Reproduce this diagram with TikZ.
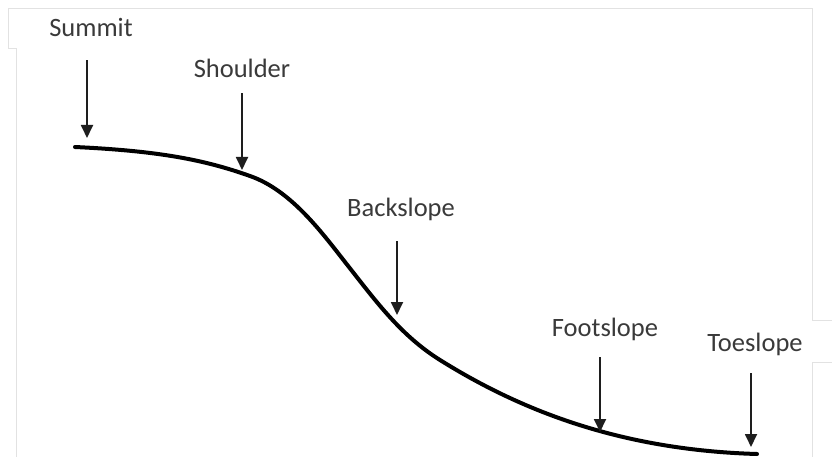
\documentclass[tikz,border=0pt]{standalone}
\usepackage{fontspec}
\setmainfont{Carlito}
\usetikzlibrary{arrows.meta}
\definecolor{txt}{HTML}{3A3A3A}
\definecolor{arrc}{HTML}{1E1E1E}
\definecolor{frame}{HTML}{E2E2E2}
\begin{document}
\begin{tikzpicture}[x=1pt,y=-1pt,
  lab/.style={font=\fontsize{26.5}{30}\selectfont, text=txt, anchor=base, inner sep=0pt},
  arr/.style={draw=arrc, line width=1.8pt, -{Triangle[width=12pt,length=13pt]}},
  slope/.style={draw=black, line width=4pt, line cap=round},
  edge/.style={draw=frame, line width=0.8pt}]
\useasboundingbox (0,0) rectangle (832,457);
\fill[white] (0,0) rectangle (832,457);
% faint frame artefacts
\draw[edge] (16,457) -- (16,48) -- (8,48) -- (8,8) -- (812,8) -- (812,320) -- (832,320);
\draw[edge] (832,362) -- (812,362) -- (812,457);
% slope profile
\draw[slope] (75,147) .. controls (160,151) and (205,160) .. (250,176)
  .. controls (290,190) and (320,230) .. (345,262)
  .. controls (375,300) and (400,335) .. (440,360)
  .. controls (520,410) and (620,450) .. (757,454);
% labels
\node[lab] (summit) at (91,37) {Summit};
\node[lab] (shoulder) at (242,78) {Shoulder};
\node[lab] (back) at (401,216) {Backslope};
\node[lab] (foot) at (605,336) {Footslope};
\node[lab] (toe) at (755,351) {Toeslope};
% arrow tips
\coordinate (summitTip) at (87,138);
\coordinate (shoulderTip) at (242,170);
\coordinate (backTip) at (397,315);
\coordinate (footTip) at (600,432);
\coordinate (toeTip) at (751,447);
% arrows
\draw[arr] (summit.south -| summitTip) ++(0,23) -- (summitTip);
\draw[arr] (shoulder.south -| shoulderTip) ++(0,15) -- (shoulderTip);
\draw[arr] (back.south -| backTip) ++(0,21) -- (backTip);
\draw[arr] (foot.south -| footTip) ++(0,17) -- (footTip);
\draw[arr] (toe.south -| toeTip) ++(0,18) -- (toeTip);
\end{tikzpicture}
\end{document}
